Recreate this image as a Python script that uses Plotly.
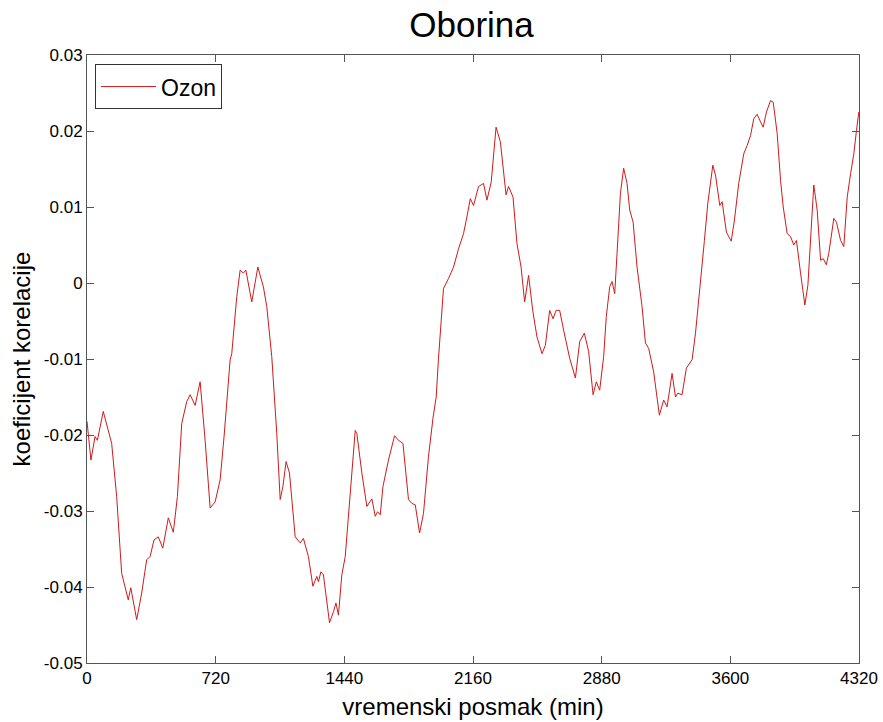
import plotly.graph_objects as go

# lag in minutes and correlation coefficient
lag_min = [0, 22, 45, 58, 91, 138, 166, 194, 231, 245, 278, 306, 334, 353, 375, 399, 424, 455, 483, 506,
           530, 558, 577, 605, 633, 661, 689, 717, 745, 767, 801, 810, 838, 857, 875, 889, 922, 956, 987, 1006,
           1034, 1062, 1081, 1096, 1114, 1133, 1165, 1193, 1211, 1239, 1264, 1286, 1295, 1309, 1323, 1357, 1380,
           1393, 1407, 1426, 1445, 1463, 1482, 1501, 1510, 1538, 1566, 1594, 1613, 1626, 1641, 1656, 1687, 1721,
           1743, 1768, 1799, 1818, 1837, 1861, 1883, 1911, 1936, 1954, 1967, 1995, 2023, 2051, 2079, 2107, 2126,
           2145, 2163, 2191, 2219, 2238, 2262, 2289, 2313, 2331, 2345, 2359, 2384, 2406, 2429, 2449, 2471, 2494,
           2518, 2546, 2565, 2589, 2608, 2625, 2645, 2667, 2701, 2733, 2757, 2783, 2807, 2832, 2850, 2869, 2891,
           2906, 2925, 2938, 2953, 2966, 2985, 3003, 3022, 3037, 3056, 3078, 3106, 3125, 3143, 3171, 3203, 3227,
           3246, 3274, 3293, 3306, 3330, 3354, 3386, 3405, 3433, 3455, 3474, 3489, 3502, 3517, 3541, 3554, 3578,
           3605, 3623, 3647, 3675, 3694, 3713, 3731, 3750, 3769, 3784, 3802, 3825, 3840, 3862, 3881, 3896, 3918,
           3937, 3955, 3970, 3993, 4017, 4034, 4053, 4067, 4086, 4105, 4120, 4137, 4151, 4179, 4194, 4217, 4235,
           4254, 4273, 4291, 4306, 4319]
ozon = [-0.0182, -0.0233, -0.0202, -0.0207, -0.0169, -0.0211, -0.0281, -0.0382, -0.0417, -0.0401, -0.0443,
        -0.0408, -0.0364, -0.0360, -0.0338, -0.0334, -0.0349, -0.0309, -0.0328, -0.0281, -0.0185, -0.0156,
        -0.0147, -0.0161, -0.0130, -0.0207, -0.0296, -0.0288, -0.0259, -0.0202, -0.0101, -0.0093, -0.0018,
        0.0017, 0.0013, 0.0017, -0.0025, 0.0021, -0.0005, -0.0031, -0.0097, -0.0198, -0.0285, -0.0268, -0.0235,
        -0.0250, -0.0334, -0.0342, -0.0336, -0.0360, -0.0399, -0.0386, -0.0393, -0.0380, -0.0384, -0.0447,
        -0.0432, -0.0421, -0.0437, -0.0384, -0.0360, -0.0303, -0.0242, -0.0194, -0.0198, -0.0250, -0.0294,
        -0.0284, -0.0307, -0.0301, -0.0305, -0.0268, -0.0233, -0.0201, -0.0207, -0.0211, -0.0285, -0.0290,
        -0.0292, -0.0329, -0.0303, -0.0228, -0.0178, -0.0150, -0.0099, -0.0007, 0.0006, 0.0021, 0.0045, 0.0065,
        0.0087, 0.0111, 0.0102, 0.0127, 0.0131, 0.0109, 0.0133, 0.0205, 0.0186, 0.0148, 0.0116, 0.0127, 0.0113,
        0.0052, 0.0021, -0.0025, 0.0010, -0.0036, -0.0071, -0.0093, -0.0082, -0.0036, -0.0047, -0.0036, -0.0036,
        -0.0062, -0.0099, -0.0125, -0.0077, -0.0066, -0.0090, -0.0147, -0.0130, -0.0141, -0.0097, -0.0044,
        -0.0005, 0.0002, -0.0014, 0.0039, 0.0118, 0.0151, 0.0131, 0.0096, 0.0080, 0.0021, -0.0031, -0.0079,
        -0.0086, -0.0117, -0.0174, -0.0154, -0.0163, -0.0119, -0.0150, -0.0145, -0.0147, -0.0112, -0.0101,
        -0.0066, 0.0008, 0.0056, 0.0105, 0.0131, 0.0155, 0.0142, 0.0102, 0.0107, 0.0067, 0.0055, 0.0083, 0.0131,
        0.0170, 0.0181, 0.0194, 0.0216, 0.0222, 0.0212, 0.0205, 0.0225, 0.0240, 0.0238, 0.0197, 0.0135, 0.0100,
        0.0065, 0.0061, 0.0050, 0.0056, 0.0013, -0.0029, -0.0003, 0.0074, 0.0129, 0.0096, 0.0030, 0.0032, 0.0024,
        0.0039, 0.0085, 0.0080, 0.0056, 0.0048, 0.0113, 0.0144, 0.0170, 0.0201, 0.0225]

x_ticks = [0, 720, 1440, 2160, 2880, 3600, 4320]
x_tick_labels = ["0", "720", "1440", "2160", "2880", "3600", "4320"]
y_ticks = [-0.05, -0.04, -0.03, -0.02, -0.01, 0, 0.01, 0.02, 0.03]
y_tick_labels = ["-0.05", "-0.04", "-0.03", "-0.02", "-0.01", "0", "0.01", "0.02", "0.03"]

FONT = "Liberation Sans, Arial, sans-serif"
AXIS_COLOR = "#555555"

fig = go.Figure()
fig.add_trace(go.Scatter(x=lag_min, y=ozon, mode="lines", name="Ozon",
                         line=dict(color="#d01a1a", width=1)))

fig.update_layout(
    width=883, height=722,
    margin=dict(l=87, r=24, t=55, b=59, autoexpand=False),
    paper_bgcolor="white", plot_bgcolor="white",
    font=dict(family=FONT, color="black"),
    title=dict(text="Oborina", x=0.534, xanchor="center", y=0.966, yanchor="middle",
               xref="container", yref="container",
               font=dict(size=35, family=FONT, color="black")),
    showlegend=True,
    legend=dict(x=0.0104, y=0.985, xanchor="left", yanchor="top",
                bgcolor="white", bordercolor="#333333", borderwidth=1,
                font=dict(size=23, family=FONT, color="black"),
                itemwidth=55, tracegroupgap=0),
)
fig.update_xaxes(
    range=[0, 4320], tickvals=x_ticks, ticktext=x_tick_labels,
    ticks="inside", ticklen=7, tickcolor=AXIS_COLOR, tickwidth=1,
    showline=True, linecolor=AXIS_COLOR, linewidth=1, mirror="ticks",
    showgrid=False, zeroline=False, automargin=False,
    tickfont=dict(size=17, family=FONT, color="black"),
    title=dict(text="vremenski posmak (min)", font=dict(size=24, family=FONT, color="black"), standoff=10),
)
fig.update_yaxes(
    range=[-0.05, 0.03], tickvals=y_ticks, ticktext=y_tick_labels,
    ticks="inside", ticklen=7, tickcolor=AXIS_COLOR, tickwidth=1,
    showline=True, linecolor=AXIS_COLOR, linewidth=1, mirror="ticks",
    showgrid=False, zeroline=False, automargin=False,
    tickfont=dict(size=17, family=FONT, color="black"),
    title=dict(text="koeficijent korelacije", font=dict(size=24, family=FONT, color="black"), standoff=6),
)

fig.write_html("out.html", config={"displayModeBar": False},
               post_script="document.body.style.margin='0';")
